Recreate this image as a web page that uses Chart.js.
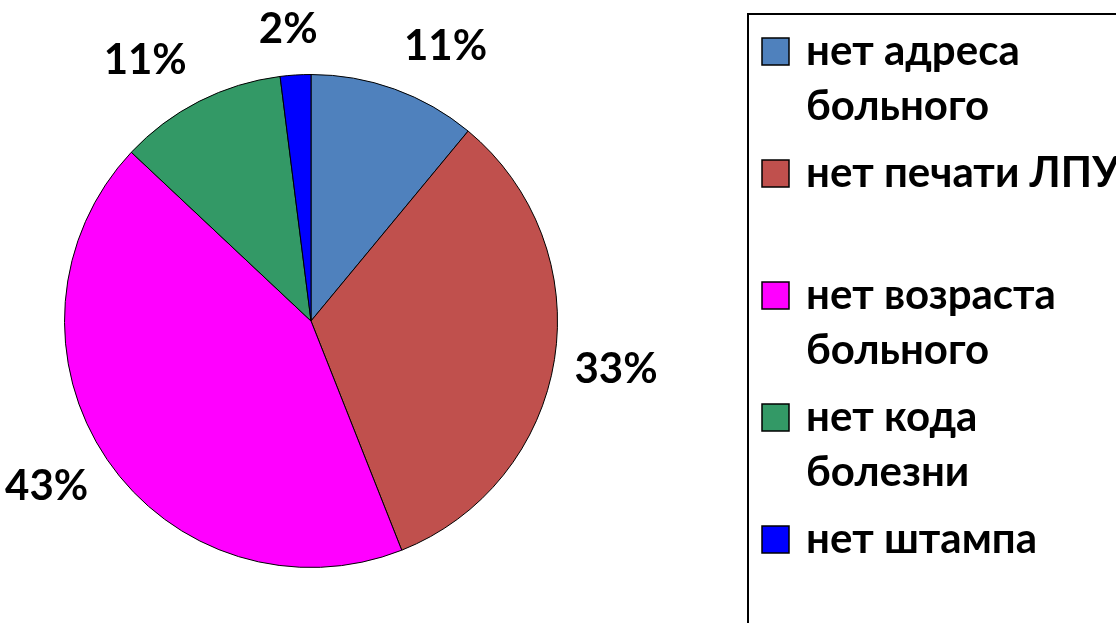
<!DOCTYPE html>
<html>
<head>
<meta charset="utf-8">
<script src="https://cdn.jsdelivr.net/npm/chart.js@4"></script>
<style>
  body { margin: 0; background: #fff; }
  canvas { display: block; }
</style>
</head>
<body>
<canvas id="pieChart" width="1116" height="623"></canvas>
<script>
// categories (legend text, already split into lines like the original)
const categories = [
  ["нет адреса", "больного"],
  ["нет печати ЛПУ"],
  ["нет возраста", "больного"],
  ["нет кода", "болезни"],
  ["нет штампа"]
];
const values = [11, 33, 43, 11, 2];
const colors = ["#4F81BD", "#C0504D", "#FF00FF", "#339966", "#0000FF"];

const FONT = "bold 42px Lato, 'Open Sans', sans-serif";

// percent labels outside the slices ("outside end" style)
const outsideLabels = {
  id: "outsideLabels",
  afterDatasetsDraw(chart) {
    const ctx = chart.ctx;
    const data = chart.data.datasets[0].data;
    const total = data.reduce((a, b) => a + b, 0);
    ctx.save();
    ctx.font = FONT;
    ctx.fillStyle = "#000";
    ctx.textAlign = "center";
    ctx.textBaseline = "middle";
    chart.getDatasetMeta(0).data.forEach((arc, i) => {
      const p = arc.getProps(["x", "y", "startAngle", "endAngle", "outerRadius"], true);
      const mid = (p.startAngle + p.endAngle) / 2;
      const txt = Math.round((data[i] / total) * 100) + "%";
      const w = ctx.measureText(txt).width;
      const h = 31;
      const dx = Math.cos(mid), dy = Math.sin(mid);
      const r = p.outerRadius + 29 - 9 * dx * dx;
      const clamp = v => Math.max(-1, Math.min(1, v * 3));
      const x = p.x + dx * r + clamp(dx) * w / 2;
      const y = p.y + dy * r + clamp(dy) * h / 2;
      ctx.fillText(txt, x, y - 1);
    });
    ctx.restore();
  }
};

// legend in a framed box on the right, clipped by the canvas edge
const boxLegend = {
  id: "boxLegend",
  afterDraw(chart) {
    const ctx = chart.ctx;
    const ds = chart.data.datasets[0];
    ctx.save();
    ctx.strokeStyle = "#000";
    ctx.lineWidth = 2;
    ctx.strokeRect(748, 14, 500, 700);
    ctx.font = FONT;
    ctx.textAlign = "left";
    ctx.textBaseline = "alphabetic";
    chart.data.labels.forEach((lab, i) => {
      const y = 38 + i * 122;
      ctx.fillStyle = ds.backgroundColor[i];
      ctx.fillRect(762, y, 27, 27);
      ctx.lineWidth = 1.5;
      ctx.strokeRect(762, y, 27, 27);
      ctx.fillStyle = "#000";
      const lines = Array.isArray(lab) ? lab : [lab];
      lines.forEach((ln, j) => {
        ctx.fillText(ln, 806, y + 27 + j * 55);
      });
    });
    ctx.restore();
  }
};

new Chart(document.getElementById("pieChart"), {
  type: "pie",
  data: {
    labels: categories,
    datasets: [{
      data: values,
      backgroundColor: colors,
      borderColor: "#000",
      borderWidth: 1
    }]
  },
  options: {
    responsive: false,
    animation: false,
    layout: { padding: { left: 64, top: 74, right: 558, bottom: 55 } },
    plugins: {
      legend: { display: false },
      tooltip: { enabled: false }
    }
  },
  plugins: [outsideLabels, boxLegend]
});
</script>
</body>
</html>
